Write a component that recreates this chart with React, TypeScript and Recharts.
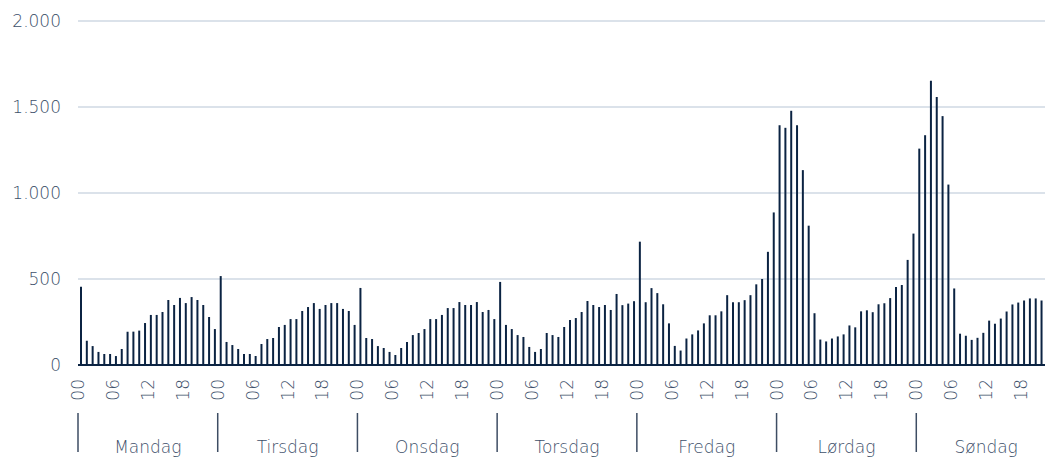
import { BarChart, Bar, XAxis, YAxis, CartesianGrid } from 'recharts';

// hourly values, one list per weekday (00..23)
const days = ['Mandag', 'Tirsdag', 'Onsdag', 'Torsdag', 'Fredag', 'Lørdag', 'Søndag'];
const hourTicks = [0, 6, 12, 18];
const yTicks = [0, 500, 1000, 1500, 2000];

const mandag = [455, 141, 110, 76, 64, 64, 52, 93, 194, 194, 200, 244, 291, 291, 308, 378, 349, 390, 360, 395, 378, 349, 279, 209];
const tirsdag = [517, 134, 116, 93, 64, 64, 52, 122, 151, 157, 221, 233, 267, 267, 314, 337, 360, 326, 349, 360, 360, 326, 314, 233];
const onsdag = [448, 157, 151, 110, 99, 76, 58, 99, 134, 174, 186, 209, 267, 267, 291, 331, 331, 366, 349, 349, 366, 308, 320, 267];
const torsdag = [483, 233, 209, 174, 163, 105, 76, 93, 186, 174, 163, 221, 262, 273, 308, 372, 349, 337, 349, 320, 413, 348, 357, 371];
const fredag = [717, 365, 447, 418, 353, 242, 111, 84, 154, 178, 201, 242, 289, 289, 312, 406, 365, 365, 377, 406, 469, 500, 658, 887];
const lordag = [1394, 1379, 1478, 1394, 1133, 810, 301, 148, 137, 154, 166, 178, 230, 219, 312, 318, 307, 353, 359, 389, 453, 465, 611, 764];
const sondag = [1258, 1336, 1652, 1558, 1447, 1049, 445, 182, 170, 146, 158, 187, 258, 240, 270, 311, 352, 363, 375, 387, 387, 375, 370, 362];

const perDay = [mandag, tirsdag, onsdag, torsdag, fredag, lordag, sondag];

const rows = perDay.flatMap((vals, d) =>
  vals.map((v, h) => ({ key: `${d}-${h}`, day: days[d], hour: h, value: v }))
);

const TEXT = '#3d506a';
const NAVY = '#0b2342';
const FONT = '"DejaVu Sans", sans-serif';

const fmt = (v: number) => String(v).replace(/\B(?=(\d{3})+(?!\d))/g, '.');

const HourTick = (props: any) => {
  const { x, y, payload } = props;
  const idx = payload.index ?? 0;
  const hour = idx % 24;
  const half = payload.offset ?? 2.91;
  const bx = x - half; // start of the hour band
  if (!hourTicks.includes(hour)) return <g />;
  return (
    <g>
      <text
        x={bx}
        y={y + 14}
        dy="0.35em"
        textAnchor="end"
        transform={`rotate(-90, ${bx}, ${y + 14})`}
        fill={TEXT}
        fontSize={17}
        fontFamily={FONT}
        fontWeight={300}
      >
        {String(hour).padStart(2, '0')}
      </text>
      {hour === 0 && <line x1={bx} x2={bx} y1={y + 48} y2={y + 87} stroke="#3d4d63" strokeWidth={1.5} />}
      {hour === 12 && (
        <text x={bx} y={y + 88} textAnchor="middle" fill={TEXT} fontSize={17} fontFamily={FONT} fontWeight={300}>
          {days[Math.floor(idx / 24)]}
        </text>
      )}
    </g>
  );
};

export default function App() {
  return (
    <div style={{ position: 'fixed', left: 0, top: 0, width: 1045, height: 457, overflow: 'hidden', background: '#fff' }}>
      <BarChart width={1070} height={457} data={rows} margin={{ top: 21, right: 14, left: 0, bottom: 0 }} barCategoryGap={0}>
        <CartesianGrid vertical={false} stroke="#cfd8e3" strokeWidth={1.5} />
        <XAxis
          dataKey="key"
          interval={0}
          height={92}
          tickSize={0}
          tickMargin={0}
          tickLine={false}
          axisLine={{ stroke: NAVY, strokeWidth: 2 }}
          tick={<HourTick />}
        />
        <YAxis
          width={78}
          domain={[0, 2000]}
          ticks={yTicks}
          tickFormatter={fmt}
          axisLine={false}
          tickLine={false}
          tickSize={6}
          tickMargin={11}
          tick={{ fill: TEXT, fontSize: 17, fontFamily: FONT, fontWeight: 300 }}
        />
        <Bar dataKey="value" fill={NAVY} barSize={2} isAnimationActive={false} />
      </BarChart>
    </div>
  );
}
